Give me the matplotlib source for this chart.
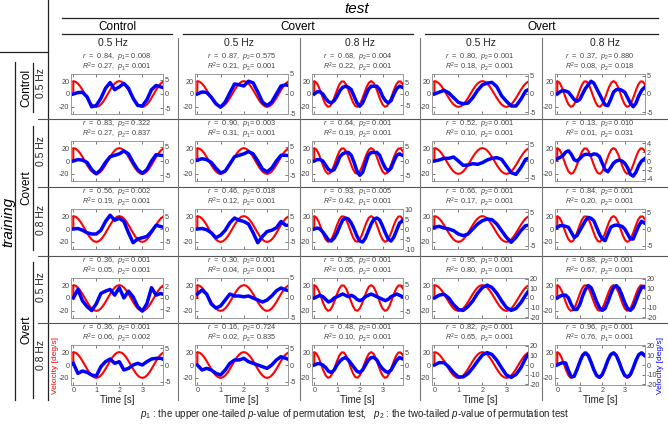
import numpy as np
import matplotlib.pyplot as plt
from matplotlib.lines import Line2D

plt.rcParams['font.family'] = ['Liberation Sans', 'DejaVu Sans']
plt.rcParams['mathtext.fontset'] = 'custom'
plt.rcParams['mathtext.rm'] = 'Liberation Sans'
plt.rcParams['mathtext.it'] = 'Liberation Sans:italic'
plt.rcParams['axes.unicode_minus'] = False

# ---- data ----
train_groups = ['Control', 'Covert', 'Overt']
test_groups = ['Control', 'Covert', 'Overt']
freq_labels = ['0.5 Hz', '0.5 Hz', '0.8 Hz', '0.5 Hz', '0.8 Hz']
col_is_fast = [False, False, True, False, True]

# stimulus velocity (deg/s), sampled every 0.1 s
red_05 = [20, 19.0, 16.2, 11.8, 6.2, 0, -6.2, -11.8, -16.2, -19.0,
          -20, -19.0, -16.2, -11.8, -6.2, 0, 6.2, 11.8, 16.2, 19.0,
          20, 19.0, 16.2, 11.8, 6.2, 0, -6.2, -11.8, -16.2, -19.0,
          -20, -19.0, -16.2, -11.8, -6.2, 0, 6.2, 11.8, 16.2, 19.0]
red_08 = [20, 17.5, 10.7, 1.3, -8.5, -16.2, -19.8, -18.6, -12.7, -3.7,
          6.2, 14.6, 19.4, 19.4, 14.6, 6.2, -3.7, -12.7, -18.6, -19.8,
          -16.2, -8.5, 1.3, 10.7, 17.5, 20, 17.5, 10.7, 1.3, -8.5,
          -16.2, -19.8, -18.6, -12.7, -3.7, 6.2, 14.6, 19.4, 19.4, 14.6]

# eye velocity (deg/s); 0.5 Hz columns every 0.2 s, 0.8 Hz columns every 0.125 s
blue_ctrl05 = [
    [0, 0.5, 0.6, -1.0, -4.5, -4.0, -1.5, 2.0, 4.0, 1.5, 2.5, 3.7, 2.0, -1.5, -4.0, -4.2, -2.0, 1.5, 3.0, 2.5, 2.0],
    [0, 0.5, 0.4, -0.8, -2.4, -3.3, -2.0, 0.3, 2.5, 2.3, 2.0, 3.2, 2.8, 0.5, -2.0, -2.9, -2.0, 0.0, 2.0, 2.3, 2.0],
    [0, 1, 1, 0, -2, -3.5, -4, -3, -1, 1.5, 3, 3.5, 3, 2, -1, -4, -5.5, -4, -1, 2, 3.5, 3.5, 3.5, 2, -1, -3, -4, -3, 0, 2.5, 3.5, 3],
    [0, 0.5, 1.0, 0.3, -1.0, -2.3, -2.7, -2.5, -1.0, 1.0, 2.5, 3.0, 3.2, 2.0, -0.5, -2.0, -3.3, -3.3, -1.5, 0.8, 1.5],
    [0, 0.6, 1.0, 0.8, 0.5, -0.5, -1.5, -2.0, -1.5, 0.0, 1.5, 2.5, 3.5, 3.0, 1.5, 0.0,
     -1.5, -3.0, -3.2, -1.5, 0.5, 1.2, 1.3, 1.0, 0.5, -1.0, -2.5, -3.5, -2.5, -0.5, 1.0, 1.8],
]
blue_cov05 = [
    [0, 0.5, 0.3, -0.5, -3.0, -4.5, -3.0, -0.5, 1.5, 2.0, 2.5, 3.5, 2.5, -0.5, -3.0, -4.3, -3.0, 0.0, 2.2, 2.0, 1.8],
    [0.3, 0.8, 0.5, -0.5, -2.5, -4.2, -3.5, -1.0, 1.5, 2.0, 2.5, 3.3, 2.5, 0.0, -2.8, -3.8, -2.5, 0.0, 2.0, 2.0, 1.8],
    [0, 0.5, 0.5, 0, -1.5, -3.0, -3.5, -3.0, -1.0, 1.5, 2.5, 3.0, 3.0, 2.0, -0.5, -3.5,
     -5.0, -4.0, -1.0, 2.0, 3.0, 3.0, 3.0, 2.0, -0.5, -2.5, -3.5, -2.5, 0.0, 2.0, 2.5, 2.0],
    [0, 0.3, 0.8, 0.8, 1.2, 0.0, -1.3, -1.2, -0.8, -1.0, -0.5, 0.3, 0.8, 1.0, 0.5, -1.5, -3.5, -4.0, -2.0, 0.5, 1.0],
    [0.5, 0.8, 1.2, 2.0, 2.3, 1.5, 0.3, 0.0, 0.5, 1.2, 1.5, 1.5, 1.3, 1.6, 1.5, 1.0,
     -0.5, -2.0, -2.4, -1.5, -0.5, 0.0, 0.2, 0.0, -0.5, -1.5, -3.0, -3.4, -2.5, -1.0, 0.0, 0.5],
]
blue_cov08 = [
    [0, 0.2, -0.5, -1.5, -2.0, -2.0, -0.5, 3.0, 5.5, 3.5, 4.3, 3.0, -1.5, -5.5, -4.0, -3.5, -3.0, -1.0, 1.5, 1.0, 0.5],
    [0, 0.2, -0.3, -1.5, -3.5, -2.5, -0.5, 2.5, 4.4, 3.5, 3.0, 2.0, -1.5, -5.5, -3.0, -1.0, -0.5, 0.5, 3.0, 1.5, 1.5],
    [0, 0.5, 0.0, -1.5, -3.5, -5.5, -6.0, -4.5, -2.0, 1.5, 4.5, 5.5, 5.0, 3.0, 0.0, -3.5,
     -6.0, -6.5, -4.5, -1.0, 2.5, 5.0, 5.5, 4.5, 1.5, -2.0, -5.0, -6.0, -4.0, -0.5, 3.0, 4.0],
    [0.5, 0.8, 0.3, 0.0, -0.5, -1.5, -2.0, -1.5, 0.0, 1.5, 2.5, 3.0, 2.8, 1.5, -0.5, -2.5, -4.0, -2.5, -0.5, 1.0, 1.2],
    [0.5, 1.0, 1.0, 0.8, 0.5, -1.0, -2.5, -2.0, -0.5, 1.0, 2.5, 3.5, 3.2, 2.5, 0.5, -1.5,
     -3.0, -3.5, -1.5, 0.5, 1.0, 1.2, 1.0, 0.8, 0.0, -1.5, -3.0, -3.0, -1.0, 1.0, 2.3, 1.8],
]
blue_ovt05 = [
    [0, 1.5, -0.5, -1.5, -2.2, -1.0, 0.8, 1.2, 1.5, 0.5, 1.8, 0.0, 1.2, 0.2, -1.5, -2.3, -1.0, 1.8, 0.5, 0.8, 0.5],
    [1.0, 2.0, 1.0, -1.5, -2.5, -2.0, -0.5, 1.0, 0.5, 0.5, 0.3, 0.5, 0.0, -0.5, -1.0, -0.5, 0.5, 1.8, 2.5, 2.0, 1.8],
    [0, 0.5, 1.0, 0.5, -0.5, -1.5, -1.0, 0.0, 0.5, 1.0, 1.5, 1.0, 0.5, 1.0, 0.5, -0.5,
     -1.0, -0.5, 0.5, 1.0, 1.5, 1.0, 0.5, 0.0, -0.5, -1.0, -0.5, 0.5, 1.0, 1.5, 1.0, 0.5],
    [0, 3.0, 4.0, 0.0, -7.0, -12.0, -13.0, -9.0, -3.0, 5.0, 11.0, 13.5, 11.0, 5.0, -3.0, -10.0, -13.0, -11.0, -5.0, 3.0, 10.0],
    [0, 2.0, 3.0, 3.0, 0.0, -7.0, -12.0, -12.0, -7.0, 2.0, 9.0, 13.0, 11.0, 4.0, -4.0, -10.0,
     -13.0, -11.0, -4.0, 4.0, 11.0, 13.0, 10.0, 3.0, -5.0, -11.0, -13.0, -10.0, -3.0, 5.0, 11.0, 12.0],
]
blue_ovt08 = [
    [0.5, -2.5, -1.8, -2.2, -3.0, -3.3, -0.5, 1.0, 1.8, 0.5, 1.0, -1.5, -1.0, 0.0, 0.5, 0.0, 1.0, 1.8, 2.0, 2.0, 1.5],
    [0.0, -1.5, -1.0, -1.5, -2.5, -3.0, -1.5, 0.5, 1.5, 1.5, 2.0, 1.0, 0.5, 0.0, -0.5, -1.0, 0.0, 1.5, 2.5, 2.0, 1.5],
    [0, 0.5, 0.5, 0.0, -1.0, -2.5, -3.0, -2.0, 0.0, 1.5, 2.5, 3.0, 2.0, 0.5, -1.0, -2.5,
     -3.0, -2.0, 0.0, 2.0, 3.0, 3.0, 2.0, 0.0, -1.5, -2.5, -3.0, -2.0, 0.0, 2.0, 3.0, 2.5],
    [0, 2.5, 2.5, -2.0, -8.0, -12.5, -12.5, -9.0, -3.0, 4.0, 10.5, 13.0, 11.0, 5.0, -3.0, -10.5, -13.0, -10.0, -3.0, 7.0, 14.0],
    [0, 1.5, 2.5, 2.0, -6.0, -12.5, -12.0, -5.0, 3.0, 10.0, 12.5, 10.0, 3.0, -5.0, -11.0, -13.0,
     -10.0, -3.0, 5.0, 11.0, 12.5, 10.0, 3.0, -5.0, -11.0, -12.5, -10.0, -3.0, 5.0, 11.0, 12.5, 10.0],
]
blue_rows = [blue_ctrl05, blue_cov05, blue_cov08, blue_ovt05, blue_ovt08]

r_vals = [[0.84, 0.87, 0.68, 0.80, 0.37],
          [0.83, 0.90, 0.64, 0.52, 0.13],
          [0.56, 0.46, 0.93, 0.66, 0.84],
          [0.36, 0.30, 0.35, 0.95, 0.88],
          [0.36, 0.16, 0.48, 0.82, 0.96]]
p_r = [[0.008, 0.575, 0.004, 0.001, 0.880],
       [0.322, 0.003, 0.001, 0.001, 0.010],
       [0.002, 0.018, 0.005, 0.001, 0.001],
       [0.001, 0.001, 0.001, 0.001, 0.001],
       [0.001, 0.724, 0.001, 0.001, 0.001]]
r2_vals = [[0.27, 0.21, 0.22, 0.18, 0.08],
           [0.27, 0.31, 0.19, 0.10, 0.01],
           [0.19, 0.12, 0.42, 0.17, 0.20],
           [0.05, 0.04, 0.05, 0.80, 0.67],
           [0.06, 0.02, 0.10, 0.65, 0.76]]
p_r2 = [[0.001, 0.001, 0.001, 0.001, 0.018],
        [0.837, 0.001, 0.001, 0.001, 0.031],
        [0.001, 0.001, 0.001, 0.001, 0.001],
        [0.001, 0.001, 0.001, 0.001, 0.001],
        [0.002, 0.835, 0.001, 0.001, 0.001]]

# right axis (eye velocity) limits and ticks
right_lim = [[7, 5, 9, 5.5, 5.5],
             [7, 7, 7, 6, 4.5],
             [8, 8, 10, 6, 6],
             [3.5, 5, 7.5, 21, 21],
             [6, 6, 8, 21, 21]]
right_ticks = [[[-5, 0, 5]] * 5,
               [[-5, 0, 5]] * 4 + [[-4, -2, 0, 2, 4]],
               [[-5, 0, 5], [-5, 0, 5], [-10, -5, 0, 5, 10], [-5, 0, 5], [-5, 0, 5]],
               [[-2, 0, 2], [-5, 0, 5], [-5, 0, 5], [-20, -10, 0, 10, 20], [-20, -10, 0, 10, 20]],
               [[-5, 0, 5]] * 3 + [[-20, -10, 0, 10, 20]] * 2]

# ---- layout (pixels) ----
W, H = 668, 424
fig = plt.figure(figsize=(W / 100, H / 100), dpi=100)


def fx(x):
    return x / W


def fy(y):
    return 1 - y / H


def hline(y, x0, x1, color='#222', lw=0.9):
    fig.add_artist(Line2D([fx(x0), fx(x1)], [fy(y), fy(y)], transform=fig.transFigure, color=color, lw=lw))


def vline(x, y0, y1, color='#222', lw=0.9):
    fig.add_artist(Line2D([fx(x), fx(x)], [fy(y0), fy(y1)], transform=fig.transFigure, color=color, lw=lw))


col_sep = [48, 178, 300, 420, 542, 668]
ax_left = [71, 195, 312, 432, 555]
ax_right = [163, 288, 403, 528, 645]
row_sep = [52, 119, 187, 256, 323]
ax_h = 40

red_t = np.concatenate([[0.0], np.arange(40) * 0.1])
t_slow = np.arange(21) * 0.2
t_fast = np.arange(32) * 0.125

for i in range(5):
    for j in range(5):
        top = row_sep[i] + 22
        ax = fig.add_axes([fx(ax_left[j]), fy(top + ax_h), (ax_right[j] - ax_left[j]) / W, ax_h / H])
        red = red_08 if col_is_fast[j] else red_05
        ax.plot(red_t, [0] + red, color='#ff0000', lw=1.5)
        ax.set_xlim(-0.1, 3.9)
        ax.set_ylim(-31, 31)
        ax.set_yticks([-20, 0, 20])
        ax.set_xticks([0, 1, 2, 3])
        ax.tick_params(direction='in', length=2, width=0.5, labelsize=5.2, colors='#444', pad=1.2, top=True)
        if i < 4:
            ax.set_xticklabels([])
        else:
            ax.set_xlabel('Time [s]', fontsize=7, labelpad=1, color='#222')
        for s in ax.spines.values():
            s.set_color('#999')
            s.set_linewidth(0.6)

        ax2 = ax.twinx()
        t_blue = t_fast if col_is_fast[j] else t_slow
        ax2.plot(t_blue, blue_rows[i][j], color='#0000ff', lw=2.5)
        R = right_lim[i][j]
        ax2.set_ylim(-R, R)
        ax2.set_yticks(right_ticks[i][j])
        ax2.tick_params(direction='in', length=2, width=0.5, labelsize=5.2, colors='#444', pad=1.2)
        for s in ax2.spines.values():
            s.set_color('#999')
            s.set_linewidth(0.6)

        if i == 4 and j == 0:
            ax.set_ylabel('Velocity [deg/s]', color='#ff0000', fontsize=6, labelpad=0)
        if i == 4 and j == 4:
            ax2.set_ylabel('Velocity [deg/s]', color='#0000ff', fontsize=6, labelpad=0)

        pk = 1 if i == j else 2
        cx = fx((ax_left[j] + ax_right[j]) / 2)
        fig.text(cx, fy(row_sep[i] + 4.5),
                 r'$r$  =  %.2f,  $p_%d$= %.3f' % (r_vals[i][j], pk, p_r[i][j]),
                 ha='center', va='center', fontsize=5.3, color='#444')
        fig.text(cx, fy(row_sep[i] + 15.5),
                 r'$R^2$= %.2f,  $p_%d$= %.3f' % (r2_vals[i][j], pk, p_r2[i][j]),
                 ha='center', va='center', fontsize=5.3, color='#444')

# ---- header: test ----
fig.text(fx(357), fy(9), 'test', style='italic', fontsize=11, ha='center', va='center')
hline(18, 62, 658)
test_spans = [(62, 172), (183, 413), (425, 658)]
for name, (a, b) in zip(test_groups, test_spans):
    fig.text(fx((a + b) / 2), fy(27), name, fontsize=8.5, ha='center', va='center')
    hline(34, a, b)
for j in range(5):
    fig.text(fx((col_sep[j] + col_sep[j + 1]) / 2), fy(43), freq_labels[j], fontsize=7.5,
             ha='center', va='center', color='#222')

# ---- side: training ----
fig.text(fx(8), fy(222), 'training', style='italic', fontsize=11, rotation=90, ha='center', va='center')
vline(15, 62, 400)
train_spans = [(63, 112), (126, 250), (262, 398)]
for name, (a, b) in zip(train_groups, train_spans):
    fig.text(fx(26), fy((a + b) / 2), name, fontsize=8.5, rotation=90, ha='center', va='center')
    vline(33, a, b)
for i in range(5):
    bottom = row_sep[i + 1] if i < 4 else 392
    fig.text(fx(41), fy((row_sep[i] + bottom) / 2 - 2), freq_labels[i], fontsize=7.5, rotation=90,
             ha='center', va='center', color='#222')

# ---- grid lines ----
vline(47.5, 0, 400)
hline(52, 0, 47.5)
for y in row_sep[1:]:
    hline(y, 38, 668, color='#555', lw=0.8)
for x in col_sep[1:-1]:
    vline(x, 38, 400, color='#777', lw=0.8)

fig.text(fx(355), fy(414),
         r'$p_1$ : the upper one-tailed $p$-value of permutation test,   '
         r'$p_2$ : the two-tailed $p$-value of permutation test',
         fontsize=7, ha='center', va='center', color='#222')

fig.savefig('out.png', dpi=100)
